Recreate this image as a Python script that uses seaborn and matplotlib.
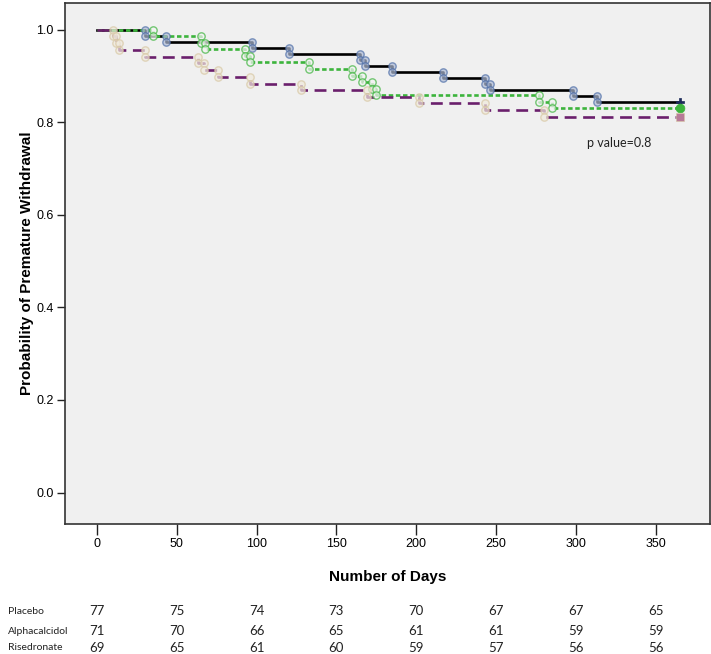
import matplotlib
matplotlib.use("Agg")
import matplotlib.pyplot as plt
import matplotlib.transforms as mtransforms
import seaborn as sns

# Kaplan-Meier style curves (day of each step, value after it)
placebo_days = [0, 30, 43, 97, 120, 165, 168, 185, 217, 243, 246, 298, 313, 365]
placebo_surv = [1.0, 0.987, 0.974, 0.961, 0.948, 0.935, 0.922, 0.909, 0.896,
                0.883, 0.870, 0.857, 0.844, 0.844]

alpha_days = [0, 35, 65, 68, 93, 96, 133, 160, 166, 172, 175, 277, 285, 365]
alpha_surv = [1.0, 0.986, 0.972, 0.958, 0.944, 0.930, 0.915, 0.901, 0.887,
              0.873, 0.859, 0.845, 0.831, 0.831]

rise_days = [0, 10, 12, 14, 30, 63, 67, 76, 96, 128, 169, 202, 243, 280, 365]
rise_surv = [1.0, 0.986, 0.971, 0.957, 0.942, 0.928, 0.913, 0.899, 0.884,
             0.870, 0.855, 0.841, 0.826, 0.812, 0.812]

# numbers at risk table
risk_days = [0, 50, 100, 150, 200, 250, 300, 350]
groups = ['Placebo', 'Alphacalcidol', 'Risedronate']
placebo_risk = [77, 75, 74, 73, 70, 67, 67, 65]
alpha_risk = [71, 70, 66, 65, 61, 61, 59, 59]
rise_risk = [69, 65, 61, 60, 59, 57, 56, 56]

y_ticks = [0.0, 0.2, 0.4, 0.6, 0.8, 1.0]
p_text = 'p value=0.8'

axis_font = ['Liberation Sans Narrow', 'Liberation Sans', 'DejaVu Sans']
table_font = ['Lato', 'DejaVu Sans']

W, H = 711, 654
fig = plt.figure(figsize=(W / 100, H / 100), dpi=100)
ax = fig.add_axes([65 / W, 1 - 524 / H, 645 / W, 521 / H])
ax.set_facecolor('#f0f0f0')

curves = [
    (placebo_days, placebo_surv, '#000000', '-', '#4f6fa8', '#aebbd6'),
    (alpha_days, alpha_surv, '#3cb43c', (0, (1.7, 1.0)), '#3cb43c', '#f4f4f4'),
    (rise_days, rise_surv, '#6a1f6c', (0, (4.5, 2.5)), '#d8c8a4', '#efe9dc'),
]

for days, surv, color, ls, m_edge, m_face in curves:
    sns.lineplot(x=days, y=surv, ax=ax, color=color, linewidth=1.9,
                 linestyle=ls, drawstyle='steps-post', estimator=None,
                 sort=False, zorder=3)
    # circles at both corners of every drop
    mx, my = [], []
    for i in range(1, len(days) - 1):
        mx += [days[i], days[i]]
        my += [surv[i - 1], surv[i]]
    sns.scatterplot(x=mx, y=my, ax=ax, marker='o', s=28, facecolor=m_face,
                    edgecolor=m_edge, linewidth=1.0, alpha=0.7, zorder=4)

# end-of-follow-up marks
sns.scatterplot(x=[placebo_days[-1]], y=[placebo_surv[-1]], ax=ax, marker='P',
                s=40, color='#1c2a5a', edgecolor='#1c2a5a', zorder=5)
sns.scatterplot(x=[alpha_days[-1]], y=[alpha_surv[-1]], ax=ax, marker='o',
                s=40, color='#3cb43c', edgecolor='#3cb43c', zorder=5)
sns.scatterplot(x=[rise_days[-1]], y=[rise_surv[-1]], ax=ax, marker='s',
                s=28, color='#b77a98', edgecolor='#d8c8a4', zorder=5)

ax.set_xlim(-20, 384)
ax.set_ylim(-0.068, 1.058)
ax.set_xticks(risk_days)
ax.set_yticks(y_ticks)
ax.set_yticklabels([f'{v:.1f}' for v in y_ticks])
ax.tick_params(direction='out', width=1, color='#222222', labelsize=9, pad=2)
ax.tick_params(axis='y', length=6)
ax.tick_params(axis='x', length=8)
for lab in ax.get_xticklabels() + ax.get_yticklabels():
    lab.set_family(axis_font)
for sp in ax.spines.values():
    sp.set_color('#333333')
    sp.set_linewidth(1.2)

ax.set_xlabel('Number of Days', fontsize=11, fontweight='bold', family=axis_font)
ax.set_ylabel('Probability of Premature Withdrawal', fontsize=11,
              fontweight='bold', family=axis_font)
ax.xaxis.set_label_coords(0.5, -(570 - 524) / 521)
ax.yaxis.set_label_coords((34 - 65) / 645, 0.5)

ax.text(307, 0.755, p_text, fontsize=9, family=table_font, va='center',
        ha='left', color='#222222')

# numbers at risk under the chart
trans = mtransforms.blended_transform_factory(ax.transData, fig.transFigure)
row_y = [1 - 611 / H, 1 - 631 / H, 1 - 648 / H]
for name, counts, y in zip(groups, [placebo_risk, alpha_risk, rise_risk], row_y):
    fig.text(8 / W, y, name, fontsize=7.5, family=table_font, va='center',
             ha='left', color='#222222')
    for d, c in zip(risk_days, counts):
        ax.text(d, y, str(c), transform=trans, fontsize=9.5, family=table_font,
                va='center', ha='center', color='#222222', clip_on=False)

fig.savefig('out.png', dpi=100, facecolor='white')
